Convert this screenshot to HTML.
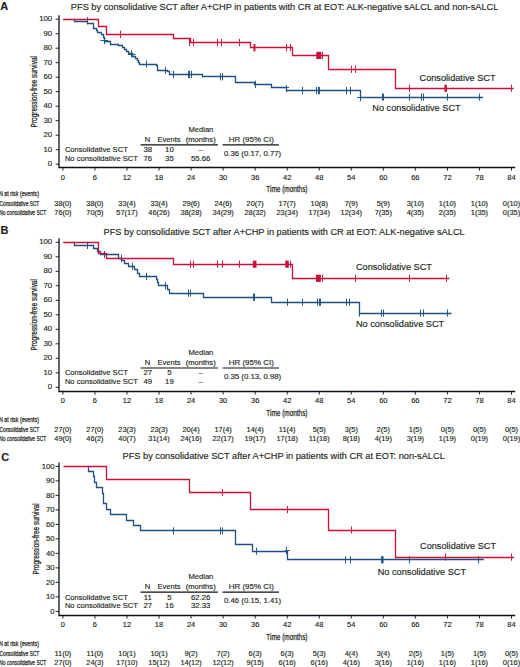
<!DOCTYPE html>
<html><head><meta charset="utf-8"><title>PFS by consolidative SCT</title>
<style>
html,body{margin:0;padding:0;background:#fff;}
body{width:520px;height:667px;overflow:hidden;}
svg{display:block;}
svg text{font-family:"Liberation Sans", sans-serif;fill:#231f20;stroke:#231f20;stroke-width:0.15px;}
svg text.cd{stroke:#231f20;stroke-width:0.25px;}
</style></head><body>
<svg width="520" height="667" viewBox="0 0 520 667">
<rect width="520" height="667" fill="#fff"/>
<text x="0.20" y="9.70" font-size="11" text-anchor="start" font-weight="bold" fill="#000">A</text>
<text x="284.60" y="10.10" font-size="9.22" text-anchor="middle">PFS by consolidative SCT after A+CHP in patients with CR at EOT: ALK-negative sALCL and non-sALCL</text>
<path d="M59,15.20V167.50H515.2" fill="none" stroke="#111" stroke-width="1.3"/>
<path d="M55.6,164.20H59M55.6,149.70H59M55.6,135.20H59M55.6,120.70H59M55.6,106.20H59M55.6,91.70H59M55.6,77.20H59M55.6,62.70H59M55.6,48.20H59M55.6,33.70H59M55.6,19.20H59M62.90,167.50V170.60M94.94,167.50V170.60M126.99,167.50V170.60M159.03,167.50V170.60M191.07,167.50V170.60M223.11,167.50V170.60M255.16,167.50V170.60M287.20,167.50V170.60M319.24,167.50V170.60M351.29,167.50V170.60M383.33,167.50V170.60M415.37,167.50V170.60M447.41,167.50V170.60M479.46,167.50V170.60M511.50,167.50V170.60" fill="none" stroke="#111" stroke-width="0.9"/>
<text x="52.20" y="166.35" font-size="7.8" text-anchor="end">0</text>
<text x="52.20" y="151.85" font-size="7.8" text-anchor="end">10</text>
<text x="52.20" y="137.35" font-size="7.8" text-anchor="end">20</text>
<text x="52.20" y="122.85" font-size="7.8" text-anchor="end">30</text>
<text x="52.20" y="108.35" font-size="7.8" text-anchor="end">40</text>
<text x="52.20" y="93.85" font-size="7.8" text-anchor="end">50</text>
<text x="52.20" y="79.35" font-size="7.8" text-anchor="end">60</text>
<text x="52.20" y="64.85" font-size="7.8" text-anchor="end">70</text>
<text x="52.20" y="50.35" font-size="7.8" text-anchor="end">80</text>
<text x="52.20" y="35.85" font-size="7.8" text-anchor="end">90</text>
<text x="52.20" y="21.35" font-size="7.8" text-anchor="end">100</text>
<text x="62.90" y="179.60" font-size="7.5" text-anchor="middle">0</text>
<text x="94.94" y="179.60" font-size="7.5" text-anchor="middle">6</text>
<text x="126.99" y="179.60" font-size="7.5" text-anchor="middle">12</text>
<text x="159.03" y="179.60" font-size="7.5" text-anchor="middle">18</text>
<text x="191.07" y="179.60" font-size="7.5" text-anchor="middle">24</text>
<text x="223.11" y="179.60" font-size="7.5" text-anchor="middle">30</text>
<text x="255.16" y="179.60" font-size="7.5" text-anchor="middle">36</text>
<text x="287.20" y="179.60" font-size="7.5" text-anchor="middle">42</text>
<text x="319.24" y="179.60" font-size="7.5" text-anchor="middle">48</text>
<text x="351.29" y="179.60" font-size="7.5" text-anchor="middle">54</text>
<text x="383.33" y="179.60" font-size="7.5" text-anchor="middle">60</text>
<text x="415.37" y="179.60" font-size="7.5" text-anchor="middle">66</text>
<text x="447.41" y="179.60" font-size="7.5" text-anchor="middle">72</text>
<text x="479.46" y="179.60" font-size="7.5" text-anchor="middle">78</text>
<text x="511.50" y="179.60" font-size="7.5" text-anchor="middle">84</text>
<text x="266.30" y="192.40" font-size="8.6" text-anchor="start" textLength="41.20" lengthAdjust="spacingAndGlyphs" class="cd">Time (months)</text>
<text x="0" y="0" font-size="9.2" class="cd" text-anchor="middle" textLength="71.4" lengthAdjust="spacingAndGlyphs" transform="translate(37.10,91.70) rotate(-90)">Progression-free survival</text>
<text x="147.60" y="141.50" font-size="7.6" text-anchor="middle">N</text>
<text x="169.00" y="141.50" font-size="7.6" text-anchor="middle">Events</text>
<text x="200.90" y="131.90" font-size="7.6" text-anchor="middle">Median</text>
<text x="200.70" y="141.50" font-size="7.6" text-anchor="middle">(months)</text>
<text x="251.30" y="141.70" font-size="7.95" text-anchor="middle">HR (95% CI)</text>
<path d="M140.6,144.90H217.9M222.6,144.90H278.9" stroke="#111" stroke-width="1.1"/>
<text x="64.90" y="152.30" font-size="7.6" text-anchor="start">Consolidative SCT</text>
<text x="147.80" y="152.30" font-size="7.8" text-anchor="middle">38</text>
<text x="169.40" y="152.30" font-size="7.8" text-anchor="middle">10</text>
<text x="200.70" y="152.30" font-size="7.8" text-anchor="middle">–</text>
<text x="64.90" y="160.80" font-size="7.6" text-anchor="start">No consolidative SCT</text>
<text x="147.80" y="160.80" font-size="7.8" text-anchor="middle">76</text>
<text x="169.40" y="160.80" font-size="7.8" text-anchor="middle">35</text>
<text x="200.70" y="160.80" font-size="7.8" text-anchor="middle">55.66</text>
<text x="252.60" y="156.10" font-size="7.8" text-anchor="middle">0.36 (0.17, 0.77)</text>
<text x="-1.00" y="195.80" font-size="7.2" text-anchor="start" textLength="40.00" lengthAdjust="spacingAndGlyphs" class="cd">N at risk (events)</text>
<text x="-0.50" y="205.70" font-size="7.3" text-anchor="start" textLength="39.80" lengthAdjust="spacingAndGlyphs" class="cd">Consolidative SCT</text>
<text x="-0.80" y="214.80" font-size="7.3" text-anchor="start" textLength="47.00" lengthAdjust="spacingAndGlyphs" class="cd">No consolidative SCT</text>
<text x="62.90" y="205.60" font-size="7.4" text-anchor="middle">38(0)</text>
<text x="62.90" y="215.00" font-size="7.4" text-anchor="middle">76(0)</text>
<text x="94.94" y="205.60" font-size="7.4" text-anchor="middle">38(0)</text>
<text x="94.94" y="215.00" font-size="7.4" text-anchor="middle">70(5)</text>
<text x="126.99" y="205.60" font-size="7.4" text-anchor="middle">33(4)</text>
<text x="126.99" y="215.00" font-size="7.4" text-anchor="middle">57(17)</text>
<text x="159.03" y="205.60" font-size="7.4" text-anchor="middle">33(4)</text>
<text x="159.03" y="215.00" font-size="7.4" text-anchor="middle">46(26)</text>
<text x="191.07" y="205.60" font-size="7.4" text-anchor="middle">29(6)</text>
<text x="191.07" y="215.00" font-size="7.4" text-anchor="middle">38(28)</text>
<text x="223.11" y="205.60" font-size="7.4" text-anchor="middle">24(6)</text>
<text x="223.11" y="215.00" font-size="7.4" text-anchor="middle">34(29)</text>
<text x="255.16" y="205.60" font-size="7.4" text-anchor="middle">20(7)</text>
<text x="255.16" y="215.00" font-size="7.4" text-anchor="middle">28(32)</text>
<text x="287.20" y="205.60" font-size="7.4" text-anchor="middle">17(7)</text>
<text x="287.20" y="215.00" font-size="7.4" text-anchor="middle">23(34)</text>
<text x="319.24" y="205.60" font-size="7.4" text-anchor="middle">10(8)</text>
<text x="319.24" y="215.00" font-size="7.4" text-anchor="middle">17(34)</text>
<text x="351.29" y="205.60" font-size="7.4" text-anchor="middle">7(9)</text>
<text x="351.29" y="215.00" font-size="7.4" text-anchor="middle">12(34)</text>
<text x="383.33" y="205.60" font-size="7.4" text-anchor="middle">5(9)</text>
<text x="383.33" y="215.00" font-size="7.4" text-anchor="middle">7(35)</text>
<text x="415.37" y="205.60" font-size="7.4" text-anchor="middle">3(10)</text>
<text x="415.37" y="215.00" font-size="7.4" text-anchor="middle">4(35)</text>
<text x="447.41" y="205.60" font-size="7.4" text-anchor="middle">1(10)</text>
<text x="447.41" y="215.00" font-size="7.4" text-anchor="middle">2(35)</text>
<text x="479.46" y="205.60" font-size="7.4" text-anchor="middle">1(10)</text>
<text x="479.46" y="215.00" font-size="7.4" text-anchor="middle">1(35)</text>
<text x="511.50" y="205.60" font-size="7.4" text-anchor="middle">0(10)</text>
<text x="511.50" y="215.00" font-size="7.4" text-anchor="middle">0(35)</text>
<path d="M74.20,19.50H74.50V21.50H87.50V23.50H93.50V25.50H93.50V28.50H96.50V30.50H97.50V32.50H101.50V34.50H103.50V37.50H104.50V41.50H110.50V44.50H118.50V45.50H122.50V47.50H124.50V49.50H126.50V51.50H128.50V53.50H132.50V56.50H135.50V58.50H137.50V60.50H138.50V62.50H139.50V64.50H156.50V65.50H157.50V70.50H167.50V71.50H169.50V74.50H202.50V76.50H235.50V82.50H254.50V84.50H271.50V87.50H286.50V90.50H360.50V97.50H483.00" fill="none" stroke="#1f5080" stroke-width="1.3" stroke-linejoin="miter" stroke-linecap="butt"/>
<path d="M87.50,17.20V24.40M104.50,37.00V44.20M131.50,50.20V57.40M146.50,60.50V67.70M165.50,66.60V73.80M173.50,70.80V78.00M188.50,70.80V78.00M189.50,70.80V78.00M191.50,70.80V78.00M220.50,73.20V80.40M222.50,73.20V80.40M255.50,80.80V88.00M286.50,85.00V92.20M302.50,87.00V94.20M316.50,87.00V94.20M318.50,87.00V94.20M319.50,87.00V94.20M346.50,87.00V94.20M350.50,87.00V94.20M360.50,94.00V101.20M382.50,93.50V100.70M383.50,93.50V100.70M409.50,93.50V100.70M421.50,93.50V100.70M423.50,93.50V100.70M447.50,93.50V100.70M479.50,93.50V100.70M100.30,40.50H108.10M128.00,54.50H135.60M284.00,87.50H289.00M357.00,97.50H361.00" fill="none" stroke="#1f5080" stroke-width="0.95"/>
<path d="M63.10,19.50H98.50V26.50H106.50V34.50H173.50V38.50H190.50V42.50H250.50V47.50H292.50V55.50H328.50V69.50H395.50V88.50H513.60" fill="none" stroke="#c9123b" stroke-width="1.3" stroke-linejoin="miter" stroke-linecap="butt"/>
<path d="M120.50,30.70V37.90M189.50,38.90V46.10M193.50,38.90V46.10M217.50,38.90V46.10M221.50,38.90V46.10M239.50,38.90V46.10M286.50,44.10V51.30M290.50,44.10V51.30M322.50,51.80V59.00M351.50,65.70V72.90M355.50,65.70V72.90M409.50,84.70V91.90M511.50,84.70V91.90" fill="none" stroke="#c9123b" stroke-width="0.95"/>
<rect x="253.45" y="44.10" width="2.00" height="7.20" fill="#c9123b"/><rect x="316.25" y="51.80" width="5.10" height="7.20" fill="#c9123b"/><rect x="444.45" y="84.70" width="2.50" height="7.20" fill="#c9123b"/>
<text x="419.50" y="81.10" font-size="9.2" text-anchor="start">Consolidative SCT</text>
<text x="372.30" y="111.10" font-size="9.2" text-anchor="start">No consolidative SCT</text>
<text x="0.60" y="233.80" font-size="11" text-anchor="start" font-weight="bold" fill="#000">B</text>
<text x="284.10" y="235.20" font-size="9.22" text-anchor="middle">PFS by consolidative SCT after A+CHP in patients with CR at EOT: ALK-negative sALCL</text>
<path d="M59,238.30V391.50H515.2" fill="none" stroke="#111" stroke-width="1.3"/>
<path d="M55.6,387.30H59M55.6,372.80H59M55.6,358.30H59M55.6,343.80H59M55.6,329.30H59M55.6,314.80H59M55.6,300.30H59M55.6,285.80H59M55.6,271.30H59M55.6,256.80H59M55.6,242.30H59M62.90,391.50V394.60M94.94,391.50V394.60M126.99,391.50V394.60M159.03,391.50V394.60M191.07,391.50V394.60M223.11,391.50V394.60M255.16,391.50V394.60M287.20,391.50V394.60M319.24,391.50V394.60M351.29,391.50V394.60M383.33,391.50V394.60M415.37,391.50V394.60M447.41,391.50V394.60M479.46,391.50V394.60M511.50,391.50V394.60" fill="none" stroke="#111" stroke-width="0.9"/>
<text x="52.20" y="389.45" font-size="7.8" text-anchor="end">0</text>
<text x="52.20" y="374.95" font-size="7.8" text-anchor="end">10</text>
<text x="52.20" y="360.45" font-size="7.8" text-anchor="end">20</text>
<text x="52.20" y="345.95" font-size="7.8" text-anchor="end">30</text>
<text x="52.20" y="331.45" font-size="7.8" text-anchor="end">40</text>
<text x="52.20" y="316.95" font-size="7.8" text-anchor="end">50</text>
<text x="52.20" y="302.45" font-size="7.8" text-anchor="end">60</text>
<text x="52.20" y="287.95" font-size="7.8" text-anchor="end">70</text>
<text x="52.20" y="273.45" font-size="7.8" text-anchor="end">80</text>
<text x="52.20" y="258.95" font-size="7.8" text-anchor="end">90</text>
<text x="52.20" y="244.45" font-size="7.8" text-anchor="end">100</text>
<text x="62.90" y="402.70" font-size="7.5" text-anchor="middle">0</text>
<text x="94.94" y="402.70" font-size="7.5" text-anchor="middle">6</text>
<text x="126.99" y="402.70" font-size="7.5" text-anchor="middle">12</text>
<text x="159.03" y="402.70" font-size="7.5" text-anchor="middle">18</text>
<text x="191.07" y="402.70" font-size="7.5" text-anchor="middle">24</text>
<text x="223.11" y="402.70" font-size="7.5" text-anchor="middle">30</text>
<text x="255.16" y="402.70" font-size="7.5" text-anchor="middle">36</text>
<text x="287.20" y="402.70" font-size="7.5" text-anchor="middle">42</text>
<text x="319.24" y="402.70" font-size="7.5" text-anchor="middle">48</text>
<text x="351.29" y="402.70" font-size="7.5" text-anchor="middle">54</text>
<text x="383.33" y="402.70" font-size="7.5" text-anchor="middle">60</text>
<text x="415.37" y="402.70" font-size="7.5" text-anchor="middle">66</text>
<text x="447.41" y="402.70" font-size="7.5" text-anchor="middle">72</text>
<text x="479.46" y="402.70" font-size="7.5" text-anchor="middle">78</text>
<text x="511.50" y="402.70" font-size="7.5" text-anchor="middle">84</text>
<text x="266.30" y="415.50" font-size="8.6" text-anchor="start" textLength="41.20" lengthAdjust="spacingAndGlyphs" class="cd">Time (months)</text>
<text x="0" y="0" font-size="9.2" class="cd" text-anchor="middle" textLength="71.4" lengthAdjust="spacingAndGlyphs" transform="translate(37.10,314.80) rotate(-90)">Progression-free survival</text>
<text x="147.60" y="364.60" font-size="7.6" text-anchor="middle">N</text>
<text x="169.00" y="364.60" font-size="7.6" text-anchor="middle">Events</text>
<text x="200.90" y="355.00" font-size="7.6" text-anchor="middle">Median</text>
<text x="200.70" y="364.60" font-size="7.6" text-anchor="middle">(months)</text>
<text x="251.30" y="364.80" font-size="7.95" text-anchor="middle">HR (95% CI)</text>
<path d="M140.6,368.00H217.9M222.6,368.00H278.9" stroke="#111" stroke-width="1.1"/>
<text x="64.90" y="375.40" font-size="7.6" text-anchor="start">Consolidative SCT</text>
<text x="147.80" y="375.40" font-size="7.8" text-anchor="middle">27</text>
<text x="169.40" y="375.40" font-size="7.8" text-anchor="middle">5</text>
<text x="200.70" y="375.40" font-size="7.8" text-anchor="middle">–</text>
<text x="64.90" y="383.90" font-size="7.6" text-anchor="start">No consolidative SCT</text>
<text x="147.80" y="383.90" font-size="7.8" text-anchor="middle">49</text>
<text x="169.40" y="383.90" font-size="7.8" text-anchor="middle">19</text>
<text x="200.70" y="383.90" font-size="7.8" text-anchor="middle">–</text>
<text x="252.60" y="379.20" font-size="7.8" text-anchor="middle">0.35 (0.13, 0.98)</text>
<text x="-1.00" y="421.90" font-size="7.2" text-anchor="start" textLength="40.00" lengthAdjust="spacingAndGlyphs" class="cd">N at risk (events)</text>
<text x="-0.50" y="431.80" font-size="7.3" text-anchor="start" textLength="39.80" lengthAdjust="spacingAndGlyphs" class="cd">Consolidative SCT</text>
<text x="-0.80" y="440.90" font-size="7.3" text-anchor="start" textLength="47.00" lengthAdjust="spacingAndGlyphs" class="cd">No consolidative SCT</text>
<text x="62.90" y="431.70" font-size="7.4" text-anchor="middle">27(0)</text>
<text x="62.90" y="441.10" font-size="7.4" text-anchor="middle">49(0)</text>
<text x="94.94" y="431.70" font-size="7.4" text-anchor="middle">27(0)</text>
<text x="94.94" y="441.10" font-size="7.4" text-anchor="middle">46(2)</text>
<text x="126.99" y="431.70" font-size="7.4" text-anchor="middle">23(3)</text>
<text x="126.99" y="441.10" font-size="7.4" text-anchor="middle">40(7)</text>
<text x="159.03" y="431.70" font-size="7.4" text-anchor="middle">23(3)</text>
<text x="159.03" y="441.10" font-size="7.4" text-anchor="middle">31(14)</text>
<text x="191.07" y="431.70" font-size="7.4" text-anchor="middle">20(4)</text>
<text x="191.07" y="441.10" font-size="7.4" text-anchor="middle">24(16)</text>
<text x="223.11" y="431.70" font-size="7.4" text-anchor="middle">17(4)</text>
<text x="223.11" y="441.10" font-size="7.4" text-anchor="middle">22(17)</text>
<text x="255.16" y="431.70" font-size="7.4" text-anchor="middle">14(4)</text>
<text x="255.16" y="441.10" font-size="7.4" text-anchor="middle">19(17)</text>
<text x="287.20" y="431.70" font-size="7.4" text-anchor="middle">11(4)</text>
<text x="287.20" y="441.10" font-size="7.4" text-anchor="middle">17(18)</text>
<text x="319.24" y="431.70" font-size="7.4" text-anchor="middle">5(5)</text>
<text x="319.24" y="441.10" font-size="7.4" text-anchor="middle">11(18)</text>
<text x="351.29" y="431.70" font-size="7.4" text-anchor="middle">3(5)</text>
<text x="351.29" y="441.10" font-size="7.4" text-anchor="middle">8(18)</text>
<text x="383.33" y="431.70" font-size="7.4" text-anchor="middle">2(5)</text>
<text x="383.33" y="441.10" font-size="7.4" text-anchor="middle">4(19)</text>
<text x="415.37" y="431.70" font-size="7.4" text-anchor="middle">1(5)</text>
<text x="415.37" y="441.10" font-size="7.4" text-anchor="middle">3(19)</text>
<text x="447.41" y="431.70" font-size="7.4" text-anchor="middle">0(5)</text>
<text x="447.41" y="441.10" font-size="7.4" text-anchor="middle">1(19)</text>
<text x="479.46" y="431.70" font-size="7.4" text-anchor="middle">0(5)</text>
<text x="479.46" y="441.10" font-size="7.4" text-anchor="middle">0(19)</text>
<text x="511.50" y="431.70" font-size="7.4" text-anchor="middle">0(5)</text>
<text x="511.50" y="441.10" font-size="7.4" text-anchor="middle">0(19)</text>
<path d="M74.80,242.50H74.50V245.50H93.50V248.50H97.50V251.50H100.50V254.50H118.50V258.50H121.50V260.50H124.50V263.50H128.50V266.50H134.50V269.50H137.50V273.50H139.50V276.50H156.50V279.50H157.50V282.50H158.50V285.50H167.50V289.50H169.50V293.50H203.50V297.50H271.50V302.50H359.50V313.50H451.50" fill="none" stroke="#1f5080" stroke-width="1.3" stroke-linejoin="miter" stroke-linecap="butt"/>
<path d="M87.50,241.80V249.00M104.50,251.00V258.20M121.50,254.70V261.90M132.50,262.70V269.90M146.50,272.80V280.00M165.50,282.20V289.40M188.50,289.50V296.70M190.50,289.50V296.70M253.50,293.60V300.80M254.50,293.60V300.80M287.50,298.60V305.80M302.50,298.60V305.80M317.50,298.60V305.80M319.50,298.60V305.80M320.50,298.60V305.80M346.50,298.60V305.80M349.50,298.60V305.80M359.50,309.50V316.70M381.50,309.50V316.70M383.50,309.50V316.70M420.50,309.50V316.70M423.50,309.50V316.70M447.50,309.50V316.70" fill="none" stroke="#1f5080" stroke-width="0.95"/>
<path d="M63.20,242.50H98.50V253.50H106.50V258.50H173.50V264.50H292.50V278.50H449.40" fill="none" stroke="#c9123b" stroke-width="1.3" stroke-linejoin="miter" stroke-linecap="butt"/>
<path d="M190.50,260.60V267.80M193.50,260.60V267.80M217.50,260.60V267.80M222.50,260.60V267.80M239.50,260.60V267.80M290.50,260.60V267.80M322.50,274.70V281.90M355.50,274.70V281.90M409.50,274.70V281.90M446.50,274.70V281.90" fill="none" stroke="#c9123b" stroke-width="0.95"/>
<rect x="252.85" y="260.60" width="3.60" height="7.20" fill="#c9123b"/><rect x="285.25" y="260.60" width="3.50" height="7.20" fill="#c9123b"/><rect x="315.95" y="274.70" width="4.90" height="7.20" fill="#c9123b"/>
<text x="355.90" y="270.10" font-size="9.2" text-anchor="start">Consolidative SCT</text>
<text x="355.90" y="326.70" font-size="9.2" text-anchor="start">No consolidative SCT</text>
<text x="1.20" y="461.00" font-size="11" text-anchor="start" font-weight="bold" fill="#000">C</text>
<text x="283.70" y="459.20" font-size="9.22" text-anchor="middle">PFS by consolidative SCT after A+CHP in patients with CR at EOT: non-sALCL</text>
<path d="M59,462.40V615.50H515.2" fill="none" stroke="#111" stroke-width="1.3"/>
<path d="M55.6,611.40H59M55.6,596.90H59M55.6,582.40H59M55.6,567.90H59M55.6,553.40H59M55.6,538.90H59M55.6,524.40H59M55.6,509.90H59M55.6,495.40H59M55.6,480.90H59M55.6,466.40H59M62.90,615.50V618.60M94.94,615.50V618.60M126.99,615.50V618.60M159.03,615.50V618.60M191.07,615.50V618.60M223.11,615.50V618.60M255.16,615.50V618.60M287.20,615.50V618.60M319.24,615.50V618.60M351.29,615.50V618.60M383.33,615.50V618.60M415.37,615.50V618.60M447.41,615.50V618.60M479.46,615.50V618.60M511.50,615.50V618.60" fill="none" stroke="#111" stroke-width="0.9"/>
<text x="54.70" y="613.55" font-size="7.8" text-anchor="end">0</text>
<text x="54.70" y="599.05" font-size="7.8" text-anchor="end">10</text>
<text x="54.70" y="584.55" font-size="7.8" text-anchor="end">20</text>
<text x="54.70" y="570.05" font-size="7.8" text-anchor="end">30</text>
<text x="54.70" y="555.55" font-size="7.8" text-anchor="end">40</text>
<text x="54.70" y="541.05" font-size="7.8" text-anchor="end">50</text>
<text x="54.70" y="526.55" font-size="7.8" text-anchor="end">60</text>
<text x="54.70" y="512.05" font-size="7.8" text-anchor="end">70</text>
<text x="54.70" y="497.55" font-size="7.8" text-anchor="end">80</text>
<text x="54.70" y="483.05" font-size="7.8" text-anchor="end">90</text>
<text x="54.70" y="468.55" font-size="7.8" text-anchor="end">100</text>
<text x="62.90" y="626.80" font-size="7.5" text-anchor="middle">0</text>
<text x="94.94" y="626.80" font-size="7.5" text-anchor="middle">6</text>
<text x="126.99" y="626.80" font-size="7.5" text-anchor="middle">12</text>
<text x="159.03" y="626.80" font-size="7.5" text-anchor="middle">18</text>
<text x="191.07" y="626.80" font-size="7.5" text-anchor="middle">24</text>
<text x="223.11" y="626.80" font-size="7.5" text-anchor="middle">30</text>
<text x="255.16" y="626.80" font-size="7.5" text-anchor="middle">36</text>
<text x="287.20" y="626.80" font-size="7.5" text-anchor="middle">42</text>
<text x="319.24" y="626.80" font-size="7.5" text-anchor="middle">48</text>
<text x="351.29" y="626.80" font-size="7.5" text-anchor="middle">54</text>
<text x="383.33" y="626.80" font-size="7.5" text-anchor="middle">60</text>
<text x="415.37" y="626.80" font-size="7.5" text-anchor="middle">66</text>
<text x="447.41" y="626.80" font-size="7.5" text-anchor="middle">72</text>
<text x="479.46" y="626.80" font-size="7.5" text-anchor="middle">78</text>
<text x="511.50" y="626.80" font-size="7.5" text-anchor="middle">84</text>
<text x="266.30" y="639.60" font-size="8.6" text-anchor="start" textLength="41.20" lengthAdjust="spacingAndGlyphs" class="cd">Time (months)</text>
<text x="0" y="0" font-size="9.2" class="cd" text-anchor="middle" textLength="71.4" lengthAdjust="spacingAndGlyphs" transform="translate(39.30,538.90) rotate(-90)">Progression-free survival</text>
<text x="147.60" y="588.70" font-size="7.6" text-anchor="middle">N</text>
<text x="169.00" y="588.70" font-size="7.6" text-anchor="middle">Events</text>
<text x="200.90" y="579.10" font-size="7.6" text-anchor="middle">Median</text>
<text x="200.70" y="588.70" font-size="7.6" text-anchor="middle">(months)</text>
<text x="251.30" y="588.90" font-size="7.95" text-anchor="middle">HR (95% CI)</text>
<path d="M140.6,592.10H217.9M222.6,592.10H278.9" stroke="#111" stroke-width="1.1"/>
<text x="64.90" y="599.50" font-size="7.6" text-anchor="start">Consolidative SCT</text>
<text x="147.80" y="599.50" font-size="7.8" text-anchor="middle">11</text>
<text x="169.40" y="599.50" font-size="7.8" text-anchor="middle">5</text>
<text x="200.70" y="599.50" font-size="7.8" text-anchor="middle">62.26</text>
<text x="64.90" y="608.00" font-size="7.6" text-anchor="start">No consolidative SCT</text>
<text x="147.80" y="608.00" font-size="7.8" text-anchor="middle">27</text>
<text x="169.40" y="608.00" font-size="7.8" text-anchor="middle">16</text>
<text x="200.70" y="608.00" font-size="7.8" text-anchor="middle">32.33</text>
<text x="252.60" y="603.30" font-size="7.8" text-anchor="middle">0.46 (0.15, 1.41)</text>
<text x="-1.00" y="645.80" font-size="7.2" text-anchor="start" textLength="40.00" lengthAdjust="spacingAndGlyphs" class="cd">N at risk (events)</text>
<text x="-0.50" y="655.70" font-size="7.3" text-anchor="start" textLength="39.80" lengthAdjust="spacingAndGlyphs" class="cd">Consolidative SCT</text>
<text x="-0.80" y="664.80" font-size="7.3" text-anchor="start" textLength="47.00" lengthAdjust="spacingAndGlyphs" class="cd">No consolidative SCT</text>
<text x="62.90" y="655.60" font-size="7.4" text-anchor="middle">11(0)</text>
<text x="62.90" y="665.00" font-size="7.4" text-anchor="middle">27(0)</text>
<text x="94.94" y="655.60" font-size="7.4" text-anchor="middle">11(0)</text>
<text x="94.94" y="665.00" font-size="7.4" text-anchor="middle">24(3)</text>
<text x="126.99" y="655.60" font-size="7.4" text-anchor="middle">10(1)</text>
<text x="126.99" y="665.00" font-size="7.4" text-anchor="middle">17(10)</text>
<text x="159.03" y="655.60" font-size="7.4" text-anchor="middle">10(1)</text>
<text x="159.03" y="665.00" font-size="7.4" text-anchor="middle">15(12)</text>
<text x="191.07" y="655.60" font-size="7.4" text-anchor="middle">9(2)</text>
<text x="191.07" y="665.00" font-size="7.4" text-anchor="middle">14(12)</text>
<text x="223.11" y="655.60" font-size="7.4" text-anchor="middle">7(2)</text>
<text x="223.11" y="665.00" font-size="7.4" text-anchor="middle">12(12)</text>
<text x="255.16" y="655.60" font-size="7.4" text-anchor="middle">6(3)</text>
<text x="255.16" y="665.00" font-size="7.4" text-anchor="middle">9(15)</text>
<text x="287.20" y="655.60" font-size="7.4" text-anchor="middle">6(3)</text>
<text x="287.20" y="665.00" font-size="7.4" text-anchor="middle">6(16)</text>
<text x="319.24" y="655.60" font-size="7.4" text-anchor="middle">5(3)</text>
<text x="319.24" y="665.00" font-size="7.4" text-anchor="middle">6(16)</text>
<text x="351.29" y="655.60" font-size="7.4" text-anchor="middle">4(4)</text>
<text x="351.29" y="665.00" font-size="7.4" text-anchor="middle">4(16)</text>
<text x="383.33" y="655.60" font-size="7.4" text-anchor="middle">3(4)</text>
<text x="383.33" y="665.00" font-size="7.4" text-anchor="middle">3(16)</text>
<text x="415.37" y="655.60" font-size="7.4" text-anchor="middle">2(5)</text>
<text x="415.37" y="665.00" font-size="7.4" text-anchor="middle">1(16)</text>
<text x="447.41" y="655.60" font-size="7.4" text-anchor="middle">1(5)</text>
<text x="447.41" y="665.00" font-size="7.4" text-anchor="middle">1(16)</text>
<text x="479.46" y="655.60" font-size="7.4" text-anchor="middle">1(5)</text>
<text x="479.46" y="665.00" font-size="7.4" text-anchor="middle">1(16)</text>
<text x="511.50" y="655.60" font-size="7.4" text-anchor="middle">0(5)</text>
<text x="511.50" y="665.00" font-size="7.4" text-anchor="middle">0(16)</text>
<path d="M88.80,466.50H88.50V471.50H93.50V476.50H94.50V482.50H96.50V487.50H102.50V493.50H103.50V498.50H103.50V503.50H106.50V509.50H110.50V514.50H126.50V520.50H133.50V525.50H140.50V530.50H235.50V544.50H252.50V551.50H287.50V559.50H483.80" fill="none" stroke="#1f5080" stroke-width="1.3" stroke-linejoin="miter" stroke-linecap="butt"/>
<path d="M173.50,527.30V534.50M220.50,527.30V534.50M222.50,527.30V534.50M256.50,547.60V554.80M286.50,546.90V554.10M345.50,556.20V563.40M350.50,556.20V563.40M409.50,556.20V563.40M478.50,556.20V563.40M285.00,550.50H290.00" fill="none" stroke="#1f5080" stroke-width="0.95"/>
<rect x="381.15" y="556.20" width="2.40" height="7.20" fill="#1f5080"/>
<path d="M63.50,466.50H106.50V479.50H189.50V492.50H250.50V509.50H328.50V530.50H395.50V557.50H514.10" fill="none" stroke="#c9123b" stroke-width="1.3" stroke-linejoin="miter" stroke-linecap="butt"/>
<path d="M222.50,489.00V496.20M287.50,506.00V513.20M351.50,526.40V533.60M445.50,553.50V560.70M511.50,553.50V560.70" fill="none" stroke="#c9123b" stroke-width="0.95"/>
<text x="420.00" y="549.40" font-size="9.2" text-anchor="start">Consolidative SCT</text>
<text x="377.70" y="575.00" font-size="9.2" text-anchor="start">No consolidative SCT</text>
</svg>
</body></html>
